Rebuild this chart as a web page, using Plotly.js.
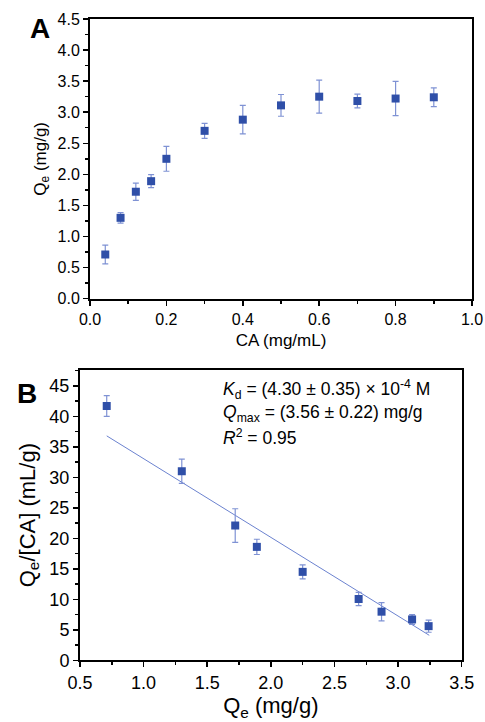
<!DOCTYPE html>
<html>
<head>
<meta charset="utf-8">
<script src="https://cdn.plot.ly/plotly-3.0.1.min.js"></script>
<style>
  html, body { margin: 0; padding: 0; background: #fff; }
  #chart { width: 485px; height: 722px; }
</style>
</head>
<body>
<div id="chart"></div>
<script>
// Panel A: adsorption isotherm
const caConc = [0.04, 0.08, 0.12, 0.16, 0.20, 0.30, 0.40, 0.50, 0.60, 0.70, 0.80, 0.90];
const qeValues = [0.71, 1.30, 1.72, 1.89, 2.25, 2.70, 2.88, 3.11, 3.25, 3.18, 3.22, 3.24];
const qeErrors = [0.15, 0.085, 0.14, 0.105, 0.20, 0.12, 0.23, 0.175, 0.265, 0.11, 0.275, 0.15];

// Panel B: Scatchard plot
const scatQe = [0.71, 1.30, 1.72, 1.89, 2.25, 2.69, 2.87, 3.11, 3.24];
const scatRatio = [41.7, 31.0, 22.1, 18.6, 14.5, 10.05, 7.97, 6.7, 5.6];
const scatErrors = [1.7, 2.0, 2.75, 1.25, 1.15, 1.1, 1.5, 0.8, 1.0];

// Linear fit line endpoints
const fitX = [0.71, 3.245];
const fitY = [36.8, 4.1];

const annotationLines = [
  "<i>K</i><sub>d</sub> = (4.30 ± 0.35) × 10<sup>-4</sup> M",
  "<i>Q</i><sub>max</sub> = (3.56 ± 0.22) mg/g",
  "<i>R</i><sup>2</sup> = 0.95"
];

const markerColor = '#2f4fa8';
const errColor = '#7f92d4';
const FONT = 'Arial, "Liberation Sans", sans-serif';

const traces = [
  {
    x: caConc, y: qeValues, xaxis: 'x', yaxis: 'y',
    type: 'scatter', mode: 'markers',
    marker: { symbol: 'square', size: 8, color: markerColor },
    error_y: { type: 'data', array: qeErrors, visible: true, color: errColor, thickness: 1.2, width: 3 },
    showlegend: false, cliponaxis: false
  },
  {
    x: fitX, y: fitY, xaxis: 'x2', yaxis: 'y2',
    type: 'scatter', mode: 'lines',
    line: { color: '#6b82cf', width: 1 },
    showlegend: false
  },
  {
    x: scatQe, y: scatRatio, xaxis: 'x2', yaxis: 'y2',
    type: 'scatter', mode: 'markers',
    marker: { symbol: 'square', size: 8, color: markerColor },
    error_y: { type: 'data', array: scatErrors, visible: true, color: errColor, thickness: 1.2, width: 3 },
    showlegend: false, cliponaxis: false
  }
];

function axisBase(extra) {
  return Object.assign({
    showgrid: false, zeroline: false,
    showline: true, linecolor: '#000', linewidth: 2, mirror: true,
    ticks: 'outside', ticklen: 5, tickwidth: 1.5, tickcolor: '#000',
    tickfont: { family: FONT, size: 16, color: '#000' },
    fixedrange: true
  }, extra);
}

const layout = {
  width: 485, height: 722,
  margin: { l: 0, r: 0, t: 0, b: 0 },
  paper_bgcolor: '#fff', plot_bgcolor: '#fff',
  font: { family: FONT, color: '#000' },
  xaxis: axisBase({
    domain: [90 / 485, 472 / 485], anchor: 'y',
    range: [0, 1], dtick: 0.2, tick0: 0, tickformat: '.1f',
    minor: { ticks: 'outside', ticklen: 3, tickwidth: 1.5, tickcolor: '#000', dtick: 0.1 },
    title: { text: 'CA (mg/mL)', font: { family: FONT, size: 17, color: '#000' }, standoff: 7 }
  }),
  yaxis: axisBase({
    domain: [1 - 298.6 / 722, 1 - 19 / 722], anchor: 'x',
    range: [0, 4.5], dtick: 0.5, tick0: 0, tickformat: '.1f',
    minor: { ticks: 'outside', ticklen: 3, tickwidth: 1.5, tickcolor: '#000', dtick: 0.25 },
    title: { text: 'Q<sub>e</sub> (mg/g)', font: { family: FONT, size: 17, color: '#000' }, standoff: 7 }
  }),
  xaxis2: axisBase({
    domain: [80 / 485, 461.7 / 485], anchor: 'y2',
    range: [0.5, 3.5], dtick: 0.5, tick0: 0.5, tickformat: '.1f',
    tickfont: { family: FONT, size: 18, color: '#000' },
    minor: { ticks: 'outside', ticklen: 3, tickwidth: 1.5, tickcolor: '#000', dtick: 0.25 },
    title: { text: 'Q<sub>e</sub> (mg/g)', font: { family: FONT, size: 22, color: '#000' }, standoff: 6 }
  }),
  yaxis2: axisBase({
    domain: [1 - 660.3 / 722, 1 - 370 / 722], anchor: 'x2',
    range: [0, 47.6], dtick: 5, tick0: 0,
    tickfont: { family: FONT, size: 18, color: '#000' },
    minor: { ticks: 'outside', ticklen: 3, tickwidth: 1.5, tickcolor: '#000', dtick: 2.5 },
    title: { text: 'Q<sub>e</sub>/[CA] (mL/g)', font: { family: FONT, size: 22, color: '#000' }, standoff: 8 }
  }),
  annotations: [
    { text: '<b>A</b>', xref: 'paper', yref: 'paper', x: 40 / 485, y: 1 - 29 / 722,
      xanchor: 'center', yanchor: 'middle', showarrow: false,
      font: { family: FONT, size: 28, color: '#000' } },
    { text: '<b>B</b>', xref: 'paper', yref: 'paper', x: 27 / 485, y: 1 - 393 / 722,
      xanchor: 'center', yanchor: 'middle', showarrow: false,
      font: { family: FONT, size: 28, color: '#000' } }
  ].concat(annotationLines.map((t, i) => ({
    text: t, xref: 'paper', yref: 'paper', x: 221 / 485, y: 1 - (390 + i * 23.5) / 722,
    xanchor: 'left', yanchor: 'middle', showarrow: false, align: 'left',
    font: { family: FONT, size: 17.5, color: '#000' }
  })))
};

Plotly.newPlot('chart', traces, layout, { displayModeBar: false, staticPlot: true });
</script>
</body>
</html>
